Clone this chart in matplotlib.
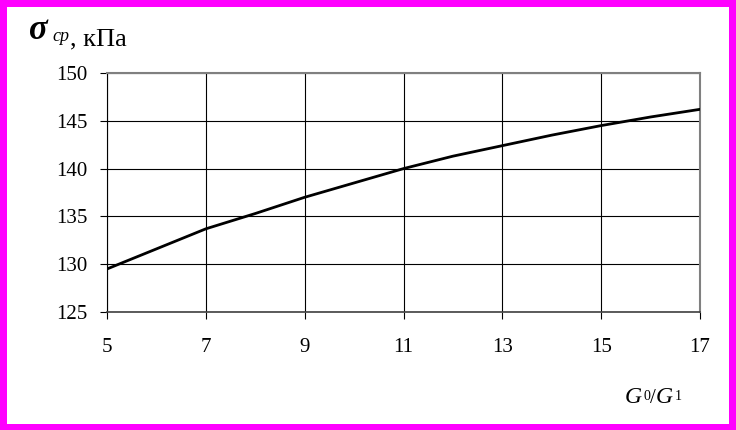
import matplotlib.pyplot as plt
from matplotlib.patches import Rectangle

# данные
g_ratio = [5, 6, 7, 8, 9, 10, 11, 12, 13, 14, 15, 16, 17]
sigma_cp = [129.5, 131.6, 133.7, 135.3, 137.0, 138.5, 140.0,
            141.3, 142.4, 143.5, 144.5, 145.4, 146.2]
x_ticks = [5, 7, 9, 11, 13, 15, 17]
y_ticks = [125, 130, 135, 140, 145, 150]

W, H = 736, 430
plt.rcParams['font.family'] = ['Liberation Serif', 'DejaVu Serif']

fig = plt.figure(figsize=(W / 100, H / 100), dpi=100)
fig.patch.set_facecolor('#ff00ff')
fig.patches.append(Rectangle((7 / W, 1 - 424 / H), 722 / W, 417 / H,
                             transform=fig.transFigure, facecolor='white',
                             edgecolor='none', zorder=-10))


def px(x, y):
    return x / W, 1 - y / H


ax = fig.add_axes([107 / W, 1 - 312 / H, 593 / W, 239 / H])
ax.plot(g_ratio, sigma_cp, color='black', lw=2, zorder=3)
ax.set_xlim(5, 17)
ax.set_ylim(125, 150)
ax.set_xticks(x_ticks)
ax.set_yticks(y_ticks)
ax.grid(True, color='black', lw=0.8)
ax.tick_params(axis='y', direction='out', length=5, width=0.8, pad=9, labelsize=15)
ax.tick_params(axis='x', direction='out', length=5, width=0.8, pad=14, labelsize=15)
for s in ['top', 'right']:
    ax.spines[s].set_color('#808080')
    ax.spines[s].set_linewidth(1.5)
ax.spines['left'].set_color('black')
ax.spines['bottom'].set_color('#404040')
ax.spines['bottom'].set_linewidth(1.2)

# подпись оси Y
fig.text(*px(29, 39), 'σ', fontsize=25, fontweight='bold', style='italic',
         ha='left', va='baseline')
fig.text(*px(52, 41), 'ср', fontsize=13, style='italic', ha='left', va='baseline')
fig.text(*px(70, 45), ', кПа', fontsize=19, ha='left', va='baseline')

# подпись оси X
fig.text(*px(625, 403), 'G', fontsize=17, style='italic', ha='left', va='baseline')
fig.text(*px(644, 400), '0', fontsize=10, ha='left', va='baseline')
fig.text(*px(650, 403), '/', fontsize=15, ha='left', va='baseline')
fig.text(*px(656, 403), 'G', fontsize=17, style='italic', ha='left', va='baseline')
fig.text(*px(675, 400), '1', fontsize=10, ha='left', va='baseline')

fig.savefig('out.png', dpi=100)
